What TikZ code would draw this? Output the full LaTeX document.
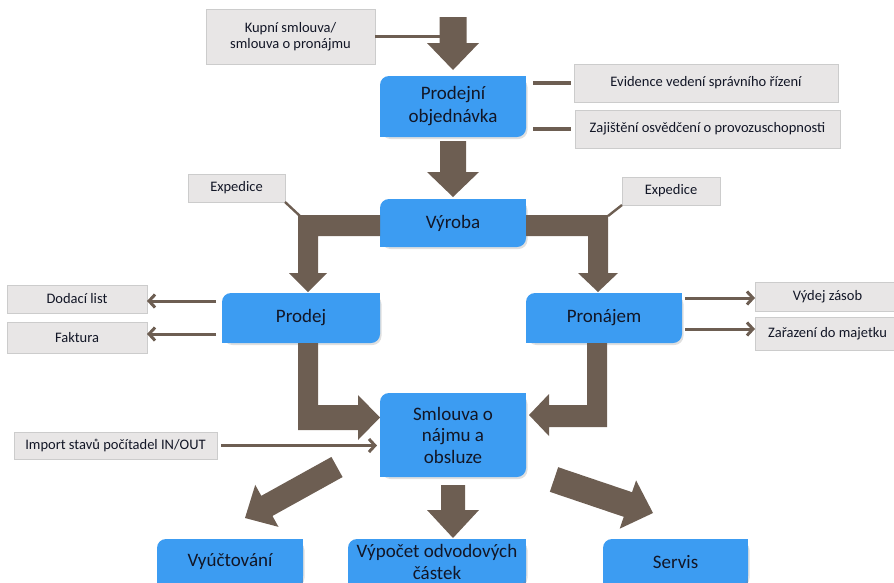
\documentclass[tikz,border=0pt]{standalone}
\usepackage{fontspec}
\setmainfont{Carlito}
\usetikzlibrary{calc,arrows.meta,shadows}
\definecolor{boxblue}{RGB}{60,156,242}
\definecolor{arrbrown}{RGB}{109,94,82}
\definecolor{grayfill}{RGB}{232,230,230}
\definecolor{grayline}{RGB}{204,204,204}
\definecolor{txt}{RGB}{18,22,38}
% straight block arrow: tail, tip, half shaft width, half head width, head length
\newcommand\blockarrow[5]{%
  \coordinate (ba-h) at ($(#2)!#5!(#1)$);
  \fill[arrbrown] ($(#1)!#3!90:(#2)$) -- ($(ba-h)!#3!90:(#2)$) -- ($(ba-h)!#4!90:(#2)$) -- (#2)
    -- ($(ba-h)!#4!-90:(#2)$) -- ($(ba-h)!#3!-90:(#2)$) -- ($(#1)!#3!-90:(#2)$) -- cycle;}
% make the top-right and bottom-left corners of a blue box sharp
\newcommand\sqcorners[1]{%
  \fill[boxblue] (#1.north east) rectangle ++(-9,9);
  \fill[boxblue] (#1.south west) rectangle ++(9,-9);}
\begin{document}
\begin{tikzpicture}[x=1pt,y=-1pt,
  bluebox/.style={fill=boxblue, rounded corners=9pt, inner sep=0pt, outer sep=0pt,
    align=center, text=txt, font=\fontsize{19}{23}\selectfont,
    drop shadow={shadow xshift=1.5pt, shadow yshift=-2pt, opacity=0.25}},
  graybox/.style={fill=grayfill, draw=grayline, line width=0.8pt, inner sep=0pt, outer sep=0pt,
    align=center, text=txt, font=\fontsize{14.5}{16.5}\selectfont,
    drop shadow={shadow xshift=1.2pt, shadow yshift=-1.2pt, opacity=0.18}},
  conn/.style={draw=arrbrown, line width=3.2pt},
  thinconn/.style={draw=arrbrown, line width=2.4pt},
  carrow/.style={draw=arrbrown, line width=3pt, -{Straight Barb[length=6pt,width=13pt]}}]
\useasboundingbox (0,0) rectangle (894,582);
\clip (0,0) rectangle (894,582);

% bottom boxes run past the lower edge: their lower part is filled first
\foreach \cx/\w in {230/146,437/178,675.5/145}{%
  \fill[boxblue] (\cx-\w/2,570) rectangle (\cx+\w/2,610);}

% blue process boxes
\node[bluebox, minimum width=146, minimum height=61] (po) at (453,106.5) {Prodejní\\objednávka};
\node[bluebox, minimum width=146, minimum height=48] (vyroba) at (453,223) {Výroba};
\node[bluebox, minimum width=158, minimum height=50] (prodej) at (301,318) {Prodej};
\node[bluebox, minimum width=156, minimum height=50] (pronajem) at (604,318) {Pronájem};
\node[bluebox, minimum width=146, minimum height=84, font=\fontsize{19}{21.5}\selectfont] (smlouva) at (453,435) {Smlouva o\\nájmu a\\obsluze};
\node[bluebox, minimum width=146, minimum height=46, drop shadow={opacity=0}] (vyuct) at (230,562) {Vyúčtování};
\node[bluebox, minimum width=178, minimum height=46, drop shadow={opacity=0}, font=\fontsize{19}{22}\selectfont] (vypocet) at (437,562) {Výpočet odvodových\\částek};
\node[bluebox, minimum width=145, minimum height=46, drop shadow={opacity=0}] (servis) at (675.5,562) {Servis};
\foreach \b in {po,vyroba,prodej,pronajem,smlouva,vyuct,vypocet,servis}{\sqcorners{\b}}

% gray document boxes
\node[graybox, minimum width=169, minimum height=55] (kupni) at (290.5,36.5) {Kupní smlouva/\\smlouva o pronájmu};
\node[graybox, minimum width=264, minimum height=38] (evidence) at (706,83) {Evidence vedení správního řízení};
\node[graybox, minimum width=265, minimum height=38] (zajisteni) at (707.5,129) {Zajištění osvědčení o provozuschopnosti};
\node[graybox, minimum width=97, minimum height=28] (exp1) at (236.5,188) {Expedice};
\node[graybox, minimum width=98, minimum height=28] (exp2) at (671,191) {Expedice};
\node[graybox, minimum width=140, minimum height=28] (dodaci) at (77,299) {Dodací list};
\node[graybox, minimum width=140, minimum height=31] (faktura) at (77,337.5) {Faktura};
\node[graybox, minimum width=145, minimum height=29] (vydej) at (827.5,296.5) {Výdej zásob};
\node[graybox, minimum width=145, minimum height=33] (zarazeni) at (827.5,333.5) {Zařazení do majetku};
\node[graybox, minimum width=203, minimum height=27] (import) at (115.5,445.5) {Import stavů počítadel IN/OUT};

% straight block arrows
\coordinate (a1t) at (453,17);
\coordinate (a1h) at ($(po.north)+(0,-6)$);
\blockarrow{a1t}{a1h}{13.5pt}{26pt}{27pt}
\coordinate (a2t) at ($(po.south)+(0,4)$);
\coordinate (a2h) at ($(vyroba.north)+(0,-2)$);
\blockarrow{a2t}{a2h}{13pt}{26pt}{25pt}
\coordinate (a3t) at ($(smlouva.south)+(0,8)$);
\coordinate (a3h) at ($(smlouva.south)+(0,61)$);
\blockarrow{a3t}{a3h}{12pt}{26pt}{28pt}
\coordinate (a4t) at (337,467);
\coordinate (a4h) at (245,518);
\blockarrow{a4t}{a4h}{11.5pt}{24pt}{25pt}
\coordinate (a5t) at (554,479.5);
\coordinate (a5h) at (653,513);
\blockarrow{a5t}{a5h}{13pt}{25.5pt}{26.5pt}

% elbow block arrows
\fill[arrbrown] (vyroba.west |- 0,215) -- (298,215) -- (298,273) -- (289,273) -- (308,292)
  -- (327,273) -- (318,273) -- (318,236) -- (vyroba.west |- 0,236) -- cycle;
\fill[arrbrown] (vyroba.east |- 0,215) -- (608,215) -- (608,273) -- (618,273) -- (598,292)
  -- (578,273) -- (588,273) -- (588,236) -- (vyroba.east |- 0,236) -- cycle;
\fill[arrbrown] (298,0 |- prodej.south) -- (298,430) -- (358,430) -- (358,440) -- (380,417.5)
  -- (358,395) -- (358,405) -- (318,405) -- (318,0 |- prodej.south) -- cycle;
\fill[arrbrown] (607,0 |- pronajem.south) -- (607,427) -- (549,427) -- (549,436) -- (529,415)
  -- (549,394) -- (549,405) -- (587,405) -- (587,0 |- pronajem.south) -- cycle;

% thin connectors
\coordinate (k1) at (440,36.5);
\draw[conn] (kupni.east) -- (k1);
\draw[conn] ($(po.east |- evidence.west)+(7,0)$) -- ($(evidence.west)+(-3,0)$);
\draw[conn] ($(po.east |- zajisteni.west)+(7,0)$) -- ($(zajisteni.west)+(-4,0)$);
\coordinate (e1) at (300,216);
\coordinate (e2) at (608,216);
\draw[thinconn] (exp1.south east) -- (e1);
\draw[thinconn] (exp2.south west) -- (e2);
\draw[carrow] ($(prodej.west)+(-6,-17)$) -- ($(dodaci.east)+(0,2)$);
\draw[carrow] ($(prodej.west)+(-6,16)$) -- ($(faktura.east)+(0,-3.5)$);
\draw[carrow] ($(pronajem.east)+(3,-20)$) -- ($(vydej.west)+(0,1.5)$);
\draw[carrow] ($(pronajem.east)+(3,11)$) -- ($(zarazeni.west)+(0,-4.5)$);
\draw[carrow] ($(import.east)+(4,0)$) -- ($(smlouva.west |- import.east)+(-3,0)$);
\end{tikzpicture}
\end{document}
